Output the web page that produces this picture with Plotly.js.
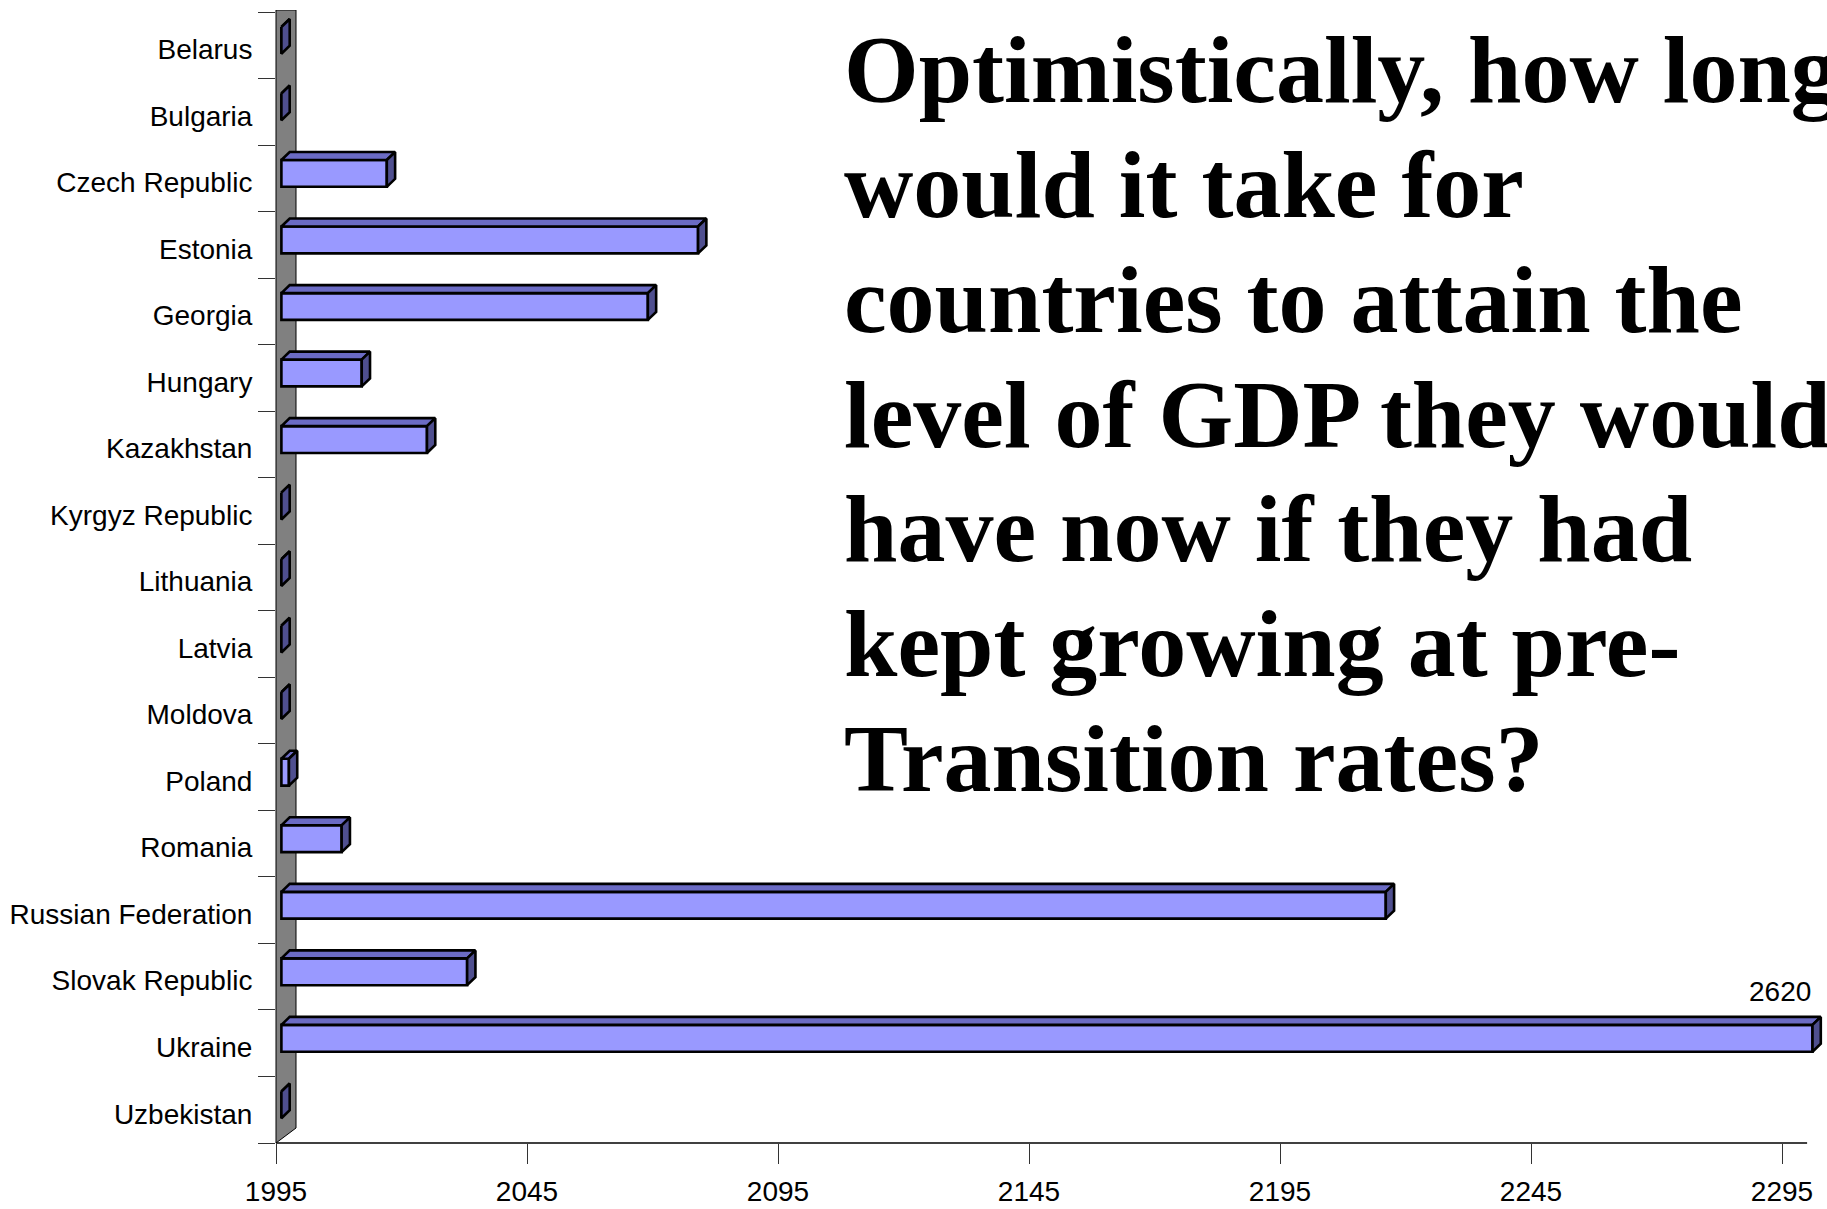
<!DOCTYPE html>
<html>
<head>
<meta charset="utf-8">
<script src="https://cdn.plot.ly/plotly-3.0.1.min.js"></script>
<style>html,body{margin:0;padding:0;background:#fff;}#chart{width:1827px;height:1209px;}</style>
</head>
<body>
<div id="chart"></div>
<script>
// ---------------- data ----------------
const countries = [
  "Belarus", "Bulgaria", "Czech Republic", "Estonia", "Georgia", "Hungary",
  "Kazakhstan", "Kyrgyz Republic", "Lithuania", "Latvia", "Moldova", "Poland",
  "Romania", "Russian Federation", "Slovak Republic", "Ukraine", "Uzbekistan"
];
const yearReached = [
  1995, 1995, 2016, 2078, 2068, 2011,
  2024, 1995, 1995, 1995, 1995, 1996.5,
  2007, 2215, 2032, 2620, 1995
];
const xTickVals = [1995, 2045, 2095, 2145, 2195, 2245, 2295];
const titleLines = [
  "Optimistically, how long",
  "would it take for",
  "countries to attain the",
  "level of GDP they would",
  "have now if they had",
  "kept growing at pre-",
  "Transition rates?"
];

// ---------------- geometry / style ----------------
const W = 1827, H = 1209;
const M = {l: 276, r: 0, t: 10, b: 66};
const plotW = W - M.l - M.r, plotH = H - M.t - M.b;
const axisMin = 1995, axisMax = 2300;
const pxPerYear = 5.02;
const yTop = -0.53, yBot = 16.5;
const pxPerCat = plotH / (yBot - yTop);

const planeDX = 5.4 / pxPerYear;     // bar front plane offset (years)
const planeDY = -4.9 / pxPerCat;     // (categories, negative = up)
const halfH = 13.4 / pxPerCat;
const depthDX = 8.3 / pxPerYear;
const depthDY = -8.0 / pxPerCat;

const FRONT = "#9999FF", TOP = "#6b6bc4", SIDE = "#4f4f8f";
const OUT = "#000000";
const OUTW = 2.6;

const idx = countries.map((_, i) => i);
const clipped = yearReached.map(v => Math.min(v, axisMax));

// top and side faces
const topX = [], topY = [], sideX = [], sideY = [];
idx.forEach(i => {
  const x0 = axisMin + planeDX;
  const x1 = clipped[i] + planeDX;
  const yt = i + planeDY - halfH;
  const yb = i + planeDY + halfH;
  topX.push(x0, x1, x1 + depthDX, x0 + depthDX, x0, null);
  topY.push(yt, yt, yt + depthDY, yt + depthDY, yt, null);
  sideX.push(x1, x1, x1 + depthDX, x1 + depthDX, x1, null);
  sideY.push(yt, yb, yb + depthDY, yt + depthDY, yt, null);
});

const traces = [
  {
    type: "bar", orientation: "h",
    y: idx.map(i => i + planeDY),
    x: clipped.map(v => v - axisMin),
    base: axisMin + planeDX,
    width: 2 * halfH,
    marker: {color: FRONT, line: {color: OUT, width: OUTW}},
    hoverinfo: "skip", showlegend: false
  },
  {
    type: "scatter", mode: "lines", x: topX, y: topY,
    fill: "toself", fillcolor: TOP, line: {color: OUT, width: OUTW},
    connectgaps: false, hoverinfo: "skip", showlegend: false
  },
  {
    type: "scatter", mode: "lines", x: sideX, y: sideY,
    fill: "toself", fillcolor: SIDE, line: {color: OUT, width: OUTW},
    connectgaps: false, hoverinfo: "skip", showlegend: false
  }
];

const boundaries = [];
for (let i = -0.5; i <= countries.length - 0.5 + 1e-9; i += 1) boundaries.push(i);

const annotations = [];
// value labels for bars running past the axis
idx.forEach(i => {
  if (yearReached[i] > axisMax) {
    annotations.push({
      xref: "x", yref: "y",
      x: axisMax + planeDX, y: i - 0.77,
      xanchor: "right", yanchor: "middle",
      text: String(yearReached[i]), showarrow: false,
      font: {family: "Liberation Sans, Arial, sans-serif", size: 28, color: "#000"}
    });
  }
});
// title lines
const firstBaseline = 102.5, lineStep = 114.75, titleSize = 96;
titleLines.forEach((t, k) => {
  const base = firstBaseline + k * lineStep;
  const center = base - 0.34 * titleSize;
  annotations.push({
    xref: "paper", yref: "paper",
    x: (842 - M.l) / plotW, y: (M.t + plotH - center) / plotH,
    xanchor: "left", yanchor: "middle",
    text: "<b>" + t + "</b>", showarrow: false, align: "left",
    font: {family: "Liberation Serif, Times New Roman, serif", size: titleSize, color: "#000"}
  });
});

const wallDepthPaper = 20 / plotW;
const wallDrop = 15 / pxPerCat;

const layout = {
  width: W, height: H, autosize: false,
  margin: M,
  paper_bgcolor: "#fff", plot_bgcolor: "rgba(0,0,0,0)",
  showlegend: false,
  barmode: "overlay",
  xaxis: {
    range: [axisMin, axisMin + plotW / pxPerYear],
    tickmode: "array", tickvals: xTickVals, ticktext: xTickVals.map(String),
    ticks: "outside", ticklen: 20, tickwidth: 1, tickcolor: "#333",
    showline: false, showgrid: false, zeroline: false,
    ticklabelstandoff: 3,
    tickfont: {family: "Liberation Sans, Arial, sans-serif", size: 28, color: "#000"}
  },
  yaxis: {
    range: [yBot, yTop],
    tickmode: "array", tickvals: idx, ticktext: countries,
    ticks: "outside", ticklen: 17, tickcolor: "rgba(0,0,0,0)",
    showline: false, showgrid: false, zeroline: false,
    ticklabelshift: -4,
    minor: {tickmode: "array", tickvals: boundaries, ticks: "outside", ticklen: 17,
            tickwidth: 1, tickcolor: "#333", showgrid: false},
    tickfont: {family: "Liberation Sans, Arial, sans-serif", size: 28, color: "#000"}
  },
  shapes: [
    {
      type: "path", layer: "below", xref: "paper", yref: "y",
      path: "M 0," + yTop + " L 0," + yBot + " L " + wallDepthPaper + "," + (yBot - wallDrop) +
            " L " + wallDepthPaper + "," + yTop + " Z",
      fillcolor: "#808080", line: {color: "#000", width: 1}
    },
    {
      type: "line", xref: "x", yref: "paper",
      x0: axisMin, x1: axisMax, y0: 0, y1: 0,
      line: {color: "#000", width: 1.3}
    }
  ],
  annotations: annotations
};

Plotly.newPlot("chart", traces, layout, {staticPlot: true, displayModeBar: false});
</script>
</body>
</html>
